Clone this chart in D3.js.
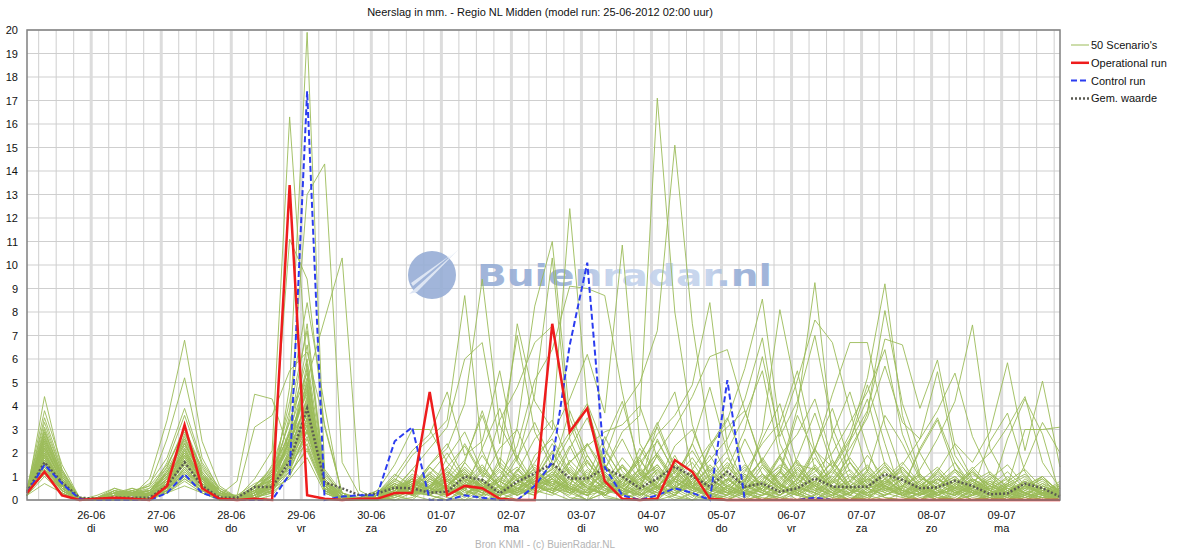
<!DOCTYPE html>
<html>
<head>
<meta charset="utf-8">
<style>
    body { margin: 0; background: #fff; }
    svg { font-family: "Liberation Sans", Arial, sans-serif; }
</style>
</head>
<body>
<svg width="1180" height="550"></svg>
<script src="https://d3js.org/d3.v7.min.js"></script>
<script>
    // model run 25-06-2012 02:00, one value per 6 hours
    const runStart = Date.UTC(2012, 5, 25, 2)
    const stepHours = 6

    const operational = [
        0.3, 1.2, 0.2, 0, 0.05, 0.1, 0.05, 0, 0.6, 3.2,
        0.5, 0.05, 0, 0.05, 0, 13.4, 0.2, 0.05, 0, 0.05,
        0.05, 0.3, 0.3, 4.6, 0.2, 0.6, 0.5, 0.05, 0, 0,
        7.5, 2.9, 3.9, 0.8, 0.05, 0, 0.05, 1.7, 1.2, 0.05,
        0, 0, 0, 0, 0, 0, 0, 0, 0, 0,
        0, 0, 0, 0, 0, 0, 0, 0, 0, 0]

    const control = [
        0.3, 1.5, 0.7, 0.05, 0, 0, 0, 0, 0.3, 1.1,
        0.3, 0.05, 0, 0, 0, 1.1, 17.4, 0, 0.15, 0.2,
        0.2, 2.5, 3.1, 0, 0, 0.2, 0.1, 0, 0, 0.6,
        1.6, 6.6, 10.1, 1.4, 0.2, 0, 0.2, 0.5, 0.3, 0,
        5.1, 0, 0, 0, 0, 0.1, 0, 0, 0, 0,
        0, 0, 0, 0, 0, 0, 0, 0, 0, 0]

    const average = [
        0.35, 1.6, 0.75, 0.1, 0.05, 0.1, 0.1, 0.1, 0.6, 1.6,
        0.6, 0.1, 0.1, 0.55, 0.55, 1.65, 3.9, 0.75, 0.5, 0.2,
        0.28, 0.52, 0.5, 0.31, 0.35, 1.0, 0.85, 0.28, 0.78, 1.13,
        1.56, 0.92, 0.92, 1.35, 1.0, 0.5, 0.92, 1.42, 1.0, 0.57,
        1.2, 0.57, 0.7, 0.35, 0.5, 0.92, 0.57, 0.55, 0.57, 1.1,
        0.85, 0.5, 0.54, 0.82, 0.6, 0.24, 0.28, 0.7, 0.5, 0.14]

    const scenarios = [
        [0.3,4.4,1.3,0,0,0.1,0.2,0.1,0.6,1.9, 0.8,0.1,0,0.4,0.6,1.8,3.2,0.4,0.1,0, 0,0.2,0.5,1.1,0.4,0.2,0.8,0.1,0,0.6, 1.4,2.7,3.9,1.5,0.3,1.2,0.6,0.2,0,0.1, 0.4,1.1,0.3,0,0,0.2,0.9,0.4,0,0.2, 0.5,2.1,3.4,1.3,0.8,0.2,0,0,0.4,0.1],
        [0.4,2.6,0.9,0.1,0,0,0,0.2,1.2,2.4, 1.1,0.2,0,0.1,0.3,4.8,19.9,1.2,0.2,0, 0.1,0,0.3,0.2,0,0.5,1.4,0.6,0.2,0.9, 2.1,0.4,0,0.6,1.5,0.3,0,0.2,0.8,0.3, 0,0,0.6,1.8,0.4,0.1,0,0.3,1.2,0.5, 0.2,0,0,0.7,0.3,0,0.2,0.9,0.4,0],
        [0.2,1.9,0.6,0,0.1,0.3,0.1,0,0.5,1.6, 0.7,0,0.1,0.9,2.1,16.3,5.4,0.6,0.1,0, 0,0.3,0.9,0.4,0.1,0,0.2,1.8,0.9,0.3, 0.5,1.7,0.9,0.2,0,0.4,2.6,1.1,0.3,0, 0.2,0.8,2.6,4.1,1.5,1.3,0.4,0,0.1,0.6, 1.4,0.5,0.1,0,0.2,0.6,0.3,0,0,0.2],
        [0.3,2.2,0.8,0,0,0,0.1,0.3,0.9,2.8, 1.4,0.3,0,0.2,0.7,3.6,13.0,14.3,1.6,0.2, 0.1,0,0.1,0.6,1.3,0.5,0,0.2,0.4,1.1, 0.6,0.1,0,0.3,1.0,0.6,0.2,0.9,2.4,0.8, 0.3,0,0.2,0.7,0.2,0,0.4,1.6,0.7,0.1, 0,0.3,0.9,0.4,0,0.1,0.5,0.2,0,0.3],
        [0.2,1.6,0.5,0,0.1,0.2,0,0,0.4,1.2, 0.5,0.1,0.2,0.5,1.1,2.4,5.1,7.7,10.3,0.4, 0,0.1,0.4,1.2,0.6,0.2,0.9,0.3,0,0.5, 1.0,2.3,0.8,0.1,0,0.3,0.9,0.4,0,0.6, 1.5,0.5,0,0.2,0.9,0.3,0,0,0.6,1.2, 0.4,0,0.2,0.5,0.1,0,0.7,1.1,0.3,0],
        [0.3,2.9,1.1,0.1,0,0,0.3,0.1,0.7,2.0, 0.9,0.2,0,0.3,1.5,11.1,9.4,3.1,0.3,0, 0.2,0.5,0.2,0,0.3,1.6,0.7,0.1,1.3,0.4, 0.2,0.6,1.9,0.7,0.3,0,0.1,0.5,1.1,0.2, 0,0.3,1.4,0.5,0,0.2,2.8,4.6,2.2,0.4, 0.9,0.4,0,0.1,0.6,0.2,0,0.3,0.7,0.2],
        [0.5,3.8,1.5,0.1,0,0.4,0.2,0.9,3.4,6.8, 2.5,0.6,0.1,0,0.2,1.1,2.2,0.5,0,0.1, 0.3,1.1,0.6,0.2,0,0.4,2.2,3.9,1.6,0.6, 0.3,0,0.4,1.2,0.5,0.1,0.7,1.9,0.6,0, 0.2,0.6,0.3,0.1,0,0.7,1.7,0.6,0.2,0, 0.3,0.8,0.2,0,0.4,2.5,3.7,1.2,0.2,0.5],
        [0.3,2.4,0.7,0,0,0.1,0.4,0.6,2.6,5.2, 1.8,0.4,0,0.1,0.4,2.9,7.5,0.9,0.2,0, 0,0.2,0.8,0.3,0.6,1.2,0.4,0,0.3,0.8, 0.4,1.3,0.5,0.2,0.9,0.3,0,0.6,2.4,4.8, 2.0,0,0.2,0.4,1.3,0.6,0.1,0,0.3,0.9, 0.3,0,0.5,1.2,0.4,0.1,0,0.4,0.8,0.3],
        [0.2,2.0,0.6,0,0,0,0.1,0.2,0.5,1.4, 0.6,0.2,0.8,4.5,4.3,2.0,4.4,0.7,0.1,0, 0.2,0.6,0.3,1.0,0.4,0,0.5,0.2,0.7,1.5, 0.9,0.3,0,2.5,4.2,1.4,0.5,0.1,0,0.3, 0.9,0.3,0.1,0,0.5,1.1,0.4,0.2,0,0.6, 0.2,0.4,1.0,0.3,0,0.2,2.6,4.3,2.8,0.2],
        [0.4,1.4,0.4,0,0.1,0.3,0.2,0.1,0.8,2.1, 0.9,0.3,0.2,3.1,3.6,5.5,6.3,3.2,0.3,0.1, 0,0.4,1.3,0.5,0.2,0.7,0.3,0,0.4,0.2, 1.1,0.5,0.2,0.8,0.3,0,0.4,1.0,0.5,0.2, 0,0.4,0.7,0.2,0.6,0.3,0,2.5,4.9,2.4, 0.1,0,0.3,0.6,0.2,0.5,0.9,0.3,0.1,0],
        [0.2,1.8,0.5,0,0,0.2,0.1,0,0.3,1.0, 0.4,0,0,0.2,0.9,1.6,3.8,0.6,0,0, 0.3,0.8,1.9,2.6,3.4,8.7,2.1,0.5,0.2,0.6, 1.2,0.4,0,0.3,0.8,0.2,0.5,1.4,0.6,0.1, 0,0.7,0.3,0.1,0.4,1.0,0.3,0,0.5,0.2, 0.6,1.1,0.4,0,0.2,0.5,0.1,0,0.3,0.4],
        [0.3,2.7,0.9,0,0,0,0.2,0.4,1.1,2.3, 1.0,0.1,0,0,0.5,2.7,4.9,0.3,0,0, 0.1,0.3,0.6,1.5,2.2,4.1,9.4,3.2,1.7,4.5, 10.3,2.6,0.9,0.2,0.6,1.8,0.4,0,0.3,0.9, 0.4,0.1,0.5,1.2,0.3,0,0.2,0.7,1.5,0.6, 0.2,0,0.4,0.9,0.3,0.1,0,0.6,1.0,0.3],
        [0.4,3.0,1.0,0.1,0,0.2,0.5,0.3,1.4,3.0, 1.2,0.4,0,0.3,1.2,3.3,6.0,1.0,0.3,0, 0,0.1,0.4,0.2,0.9,1.7,3.6,1.4,7.5,4.2, 3.0,12.4,4.1,1.1,0.3,0,0.6,0.2,1.3,0.5, 0.2,0.9,0.4,0,0.3,1.4,0.5,0.1,0,0.8, 1.2,0.4,0.1,0,0.5,0.8,0.2,0,0.1,0.6],
        [0.2,1.5,0.4,0,0,0,0,0.1,0.6,1.7, 0.7,0.2,0.1,0.6,0.8,1.3,4.1,0.8,0.1,0, 0.2,0.5,0.9,0.4,1.8,2.9,1.2,0.6,3.1,8.25, 11.0,3.5,1.6,0.7,0.2,0.5,1.9,0.8,0.2,0, 0.6,0.3,0,0.4,1.1,0.5,0.2,0,0.4,1.3, 0.5,0.1,0.3,0.8,0.2,0,0.4,0.7,0.2,0],
        [0.3,2.1,0.7,0,0.1,0.1,0,0.2,0.9,1.9, 0.8,0.1,0,0.2,0.4,2.2,5.8,0.4,0,0.1, 0.4,0.2,0,0.6,1.1,0.4,0.2,0.8,1.9,0.7, 0.3,1.6,2.4,1.3,2.9,3.6,17.1,8.0,3.2,1.0, 0.3,0.6,1.8,0.7,0.2,0,0.5,1.1,0.4,0.1, 0,0.3,0.9,0.5,1.3,0.4,0,0.2,0.6,0.2],
        [0.4,1.7,0.6,0,0,0.4,0.3,0,0.4,1.3, 0.6,0,0.2,0.7,1.0,4.2,8.4,4.0,0,0, 0.1,0.6,0.3,0.9,0.5,0.1,0.6,1.3,0.4,1.0, 2.4,1.1,0.4,1.8,3.9,5.0,7.2,15.1,7.5,2.6, 1.0,0.3,0,0.5,1.2,0.4,0.1,0.3,0.9,0.6, 0.2,0.5,1.3,0.4,0,0.2,0.7,0.3,0,0.1],
        [0.2,2.5,0.8,0,0,0,0.1,0.3,0.7,1.5, 0.7,0.3,0,0.1,0.6,1.9,3.3,0.9,0.2,0, 0,0.3,0.8,0.3,0.2,0.9,0.5,0.2,0.6,1.6, 2.8,4.3,6.2,3.7,10.85,2.4,1.1,0.4,0.8,1.9, 0.7,0.2,0.4,1.0,0.3,0,0.6,0.2,1.1,0.5, 0.3,0.9,0.2,0,0.4,0.7,0.3,0.1,0.5,0.2],
        [0.3,1.2,0.4,0,0,0.1,0.2,0.1,0.5,1.1, 0.5,0.1,0,0.3,1.3,2.8,4.6,0.7,0.2,0, 0.2,0.9,0.4,1.4,0.8,0.2,0.4,1.0,2.3,5.1, 6.4,9.1,9.0,8.7,4.6,1.2,0.5,1.6,0.7,0.2, 0,0.4,1.1,0.5,0.2,0.8,0.3,0,0.2,0.7, 1.0,0.4,0,0.3,0.6,0.2,0,0.5,0.9,0.4],
        [0.4,2.3,0.8,0.1,0,0,0.3,0.5,1.0,2.0, 0.9,0.2,0,0.4,0.3,1.0,2.6,0.5,0.1,0, 0.1,0.4,0.2,0.7,0.3,1.1,0.6,0.2,0.5,0.3, 0.9,0.4,1.3,0.6,0.2,1.4,2.8,3.6,4.9,8.4, 2.3,0.6,0.3,1.2,3.9,9.25,2.7,0.8,0.3,0.5, 1.1,0.3,0,0.2,0.7,0.4,0.1,0.6,0.3,0],
        [0.2,1.9,0.6,0,0.1,0.5,0.2,0,0.6,1.8, 0.8,0.2,0.1,0.5,0.9,3.0,5.2,0.4,0,0, 0,0.2,0.5,0.3,1.2,0.6,0.2,0.4,1.0,0.7, 0.4,0.9,0.3,1.5,0.7,0.2,0.6,1.3,0.5,2.2, 3.4,5.6,8.55,3.1,1.0,0.6,1.4,2.8,5.2,9.2, 3.6,1.1,0.4,0.2,0.8,0.3,0,0.4,1.0,0.3],
        [0.3,2.8,1.0,0,0,0,0.1,0.2,1.3,2.6, 1.1,0.3,0,0.2,0.5,1.7,3.5,1.1,0.3,0, 0.3,0.6,0.2,0.9,0.4,0.2,0.7,0.3,0.9,1.2, 0.5,0.2,0.8,1.9,0.6,0.3,1.2,0.5,0.1,0.8, 1.6,0.7,2.9,8.1,4.4,1.3,0.5,0.2,0.7,1.5, 0.6,0.2,0.5,1.3,0.4,0,0.3,0.8,0.2,0.1],
        [0.2,1.3,0.5,0,0,0.2,0.4,0.1,0.3,0.9, 0.4,0,0,0.1,0.7,2.0,3.9,0.3,0,0, 0.2,0.7,0.3,0.5,1.0,0.4,0.1,0.6,0.3,0.9, 1.3,0.6,0.2,0.4,1.1,0.7,0.3,0.9,1.6,0.5, 0.2,0.8,1.7,2.9,5.1,7.66,6.7,3.8,1.2,0.6, 0.4,1.3,2.6,4.2,7.45,2.2,0.8,0.3,0.5,0.2],
        [0.5,3.3,1.2,0.1,0,0.1,0,0.3,1.6,3.6, 1.5,0.4,0.1,0.2,0.8,2.6,4.0,0.8,0.2,0, 0,0.2,0.7,0.4,0.3,0.8,1.5,0.5,0.2,0.6, 1.0,0.4,0.2,0.7,1.4,0.6,0.2,0.5,1.2,0.4, 0.8,1.5,0.6,0.2,0.9,1.8,0.7,1.9,3.7,8.06, 4.1,2.0,0.7,0.3,0.9,0.4,0.1,0.6,0.3,0.2],
        [0.3,1.6,0.5,0,0,0.3,0.1,0,0.4,1.4, 0.6,0.1,0,0.6,1.4,3.8,7.2,0.6,0,0, 0.1,0.3,0.6,1.1,0.5,0.2,0.9,0.4,1.3,0.6, 0.3,0.7,1.6,0.8,0.4,1.1,2.0,3.1,4.4,6.1, 6.4,3.8,1.5,0.6,0.3,0.8,1.6,0.5,0.2,0.4, 0.9,0.3,0,0.4,1.1,0.6,0.2,0,0.3,0.7],
        [0.2,2.0,0.7,0,0.1,0,0.2,0.4,0.8,1.7, 0.7,0.2,0,0.2,0.6,1.5,2.9,0.6,0.1,0, 0.3,0.5,0.2,0.6,0.9,0.3,0.5,1.2,0.4,0.8, 0.6,1.4,0.5,0.2,0.7,1.3,0.6,0.3,0.9,1.7, 2.6,4.3,6.9,2.4,0.8,2.1,4.5,6.7,6.7,3.2, 1.1,0.5,0.3,0.8,0.4,0.1,0.6,1.0,0.3,0.1],
        [0.4,2.6,0.9,0,0,0.1,0.3,0.2,1.2,2.5, 1.0,0.2,0,0.4,0.9,2.3,5.0,0.7,0.2,0, 0.2,0.4,1.0,0.5,0.2,0.6,0.3,0.9,0.5,0.2, 0.8,0.5,1.2,0.4,0.2,0.9,1.5,0.6,0.3,0.7, 1.2,0.5,0.8,1.9,0.7,0.4,1.3,2.5,3.8,6.85, 6.6,3.9,5.96,2.3,0.9,0.4,0.7,0.3,0.1,0.4],
        [0.3,1.1,0.3,0,0,0,0.1,0.1,0.3,0.8, 0.3,0,0.1,0.3,0.6,1.4,2.7,0.5,0,0, 0.1,0.4,0.8,0.3,0.6,1.3,0.5,0.2,0.7,1.1, 0.4,0.9,0.3,0.6,1.5,0.7,0.3,0.8,0.4,0.2, 0.6,1.0,0.4,0.2,0.7,1.4,0.5,0.3,0.9,1.6, 0.8,0.3,1.2,2.4,1.6,2.9,5.84,2.1,5.06,1.4],
        [0.2,1.4,0.5,0,0.1,0.3,0.2,0,0.5,1.3, 0.5,0.1,0,0.2,0.7,2.1,4.3,0.8,0.1,0, 0,0.3,0.5,1.4,0.6,0.2,0.7,0.3,0.4,1.0, 0.7,0.3,0.9,1.5,0.5,0.2,0.6,1.2,0.5,0.3, 0.9,0.4,0.2,0.6,1.3,0.6,0.3,0.8,1.4,0.7, 1.5,2.6,3.8,5.4,2.7,1.1,0.6,3.0,3.0,3.1],
        [0.4,2.2,0.8,0,0,0.1,0,0.3,0.9,2.2, 0.9,0.2,0,0.1,0.4,1.2,3.0,0.5,0.1,0, 0.3,1.0,2.1,2.8,4.6,1.9,2.5,5.5,1.7,0.6, 0.3,0.8,1.7,0.6,0.2,0.5,1.3,0.4,0.9,0.3, 0.1,0.5,1.1,0.4,0.2,0.7,0.3,0,0.5,1.2, 0.4,0.2,0.6,1.0,0.3,0,0.4,0.8,0.2,0],
        [0.3,1.7,0.6,0,0,0.2,0.3,0.6,1.5,2.9, 1.2,0.3,0,0.3,0.8,1.8,3.4,0.4,0,0, 0.2,0.5,1.3,2.2,3.1,6.0,6.7,2.4,7.0,2.9, 1.4,0.5,0.2,0.9,0.4,1.1,0.5,0.2,0.7,1.4, 0.5,0.2,0.6,1.3,0.4,0.1,0.8,0.3,0.6,1.0, 0.3,0.7,0.2,0.5,1.2,0.4,0,0.2,0.6,0.3],
        [0.2,2.4,0.7,0,0,0,0.1,0.2,0.7,1.6, 0.6,0.1,0.1,0.4,1.1,2.5,4.7,0.9,0.2,0, 0.1,0.2,0.9,0.5,1.4,2.3,1.0,3.4,4.8,6.7, 7.4,3.2,1.4,0.6,0.3,0.8,1.5,0.6,0.2,0.5, 1.1,0.4,0.2,0.7,1.5,0.5,0.2,0.6,1.0,0.3, 0.1,0.5,0.9,0.3,0.6,1.1,0.4,0.1,0.3,0.5],
        [0.4,3.5,1.3,0.1,0,0.3,0.5,0.2,0.8,2.4, 1.0,0.3,0,0.2,0.6,1.9,3.7,0.6,0.1,0, 0.2,0.7,0.3,1.1,2.0,0.8,0.4,1.6,0.9,0.4, 1.7,2.9,4.1,2.2,0.9,1.8,3.3,1.4,0.6,0.2, 0.5,1.3,0.6,0.3,0.9,2.2,0.8,0.4,0.1,0.6, 1.0,0.4,0.2,0.7,0.3,0.9,1.5,0.6,0.2,0.4],
        [0.3,2.1,0.6,0,0,0.1,0.2,0,0.6,1.5, 0.8,0.2,0,0.5,1.0,2.2,3.1,0.6,0,0, 0,0.3,0.7,0.4,0.9,0.5,1.2,0.6,0.3,0.8, 1.5,0.6,0.3,1.0,0.5,0.2,0.8,1.6,0.7,0.4, 1.3,3.0,6.1,2.7,4.2,7.0,3.1,1.2,0.5,0.8, 0.4,0.2,0.7,1.3,0.5,0.2,0.6,0.3,0.1,0.2],
        [0.2,1.3,0.4,0,0.1,0.4,0.2,0.1,0.5,1.1, 0.4,0.1,0,0.2,0.5,1.3,2.9,0.4,0,0.1, 0.3,0.6,0.2,0.8,0.4,1.0,0.5,0.2,0.9,1.3, 0.6,0.3,1.0,0.5,0.2,0.7,1.3,0.5,1.1,0.6, 0.3,1.2,2.4,3.3,5.5,2.1,1.4,2.6,4.3,1.5, 0.6,0.3,0.9,0.4,0.2,0.8,0.5,0.1,0.4,0.3],
        [0.3,1.8,0.6,0,0,0,0.3,0.4,1.1,2.0, 0.8,0.3,0.1,0.4,0.7,2.0,4.2,0.7,0.2,0, 0.1,0.4,0.9,0.3,0.6,1.2,0.4,0.8,0.3,0.6, 0.9,0.5,0.2,0.7,1.4,0.6,0.3,0.9,0.5,1.2, 2.1,3.6,5.5,1.8,0.7,1.2,2.0,3.3,4.6,6.4, 2.8,1.0,0.4,0.2,0.9,0.5,0.2,0.7,0.3,0.1],
        [0.2,2.7,1.0,0.1,0,0.2,0.1,0,0.6,1.8, 0.7,0.1,0,0.3,0.8,1.6,2.4,0.5,0.1,0, 0.2,0.5,0.3,1.0,0.5,0.2,0.8,0.4,1.1,0.6, 0.3,1.2,0.6,0.2,0.9,1.7,0.7,0.3,0.6,1.0, 0.4,0.2,0.9,1.4,0.6,0.3,1.1,2.2,3.5,5.7, 3.3,2.6,5.46,1.9,0.8,0.4,0.2,0.6,1.0,0.3],
        [0.3,1.5,0.5,0,0,0.1,0.4,0.2,0.4,1.2, 0.6,0.2,0.1,0.6,1.2,2.4,3.6,0.7,0.1,0, 0,0.2,0.6,0.3,0.8,0.4,1.3,0.6,0.2,0.7, 1.1,0.5,0.3,0.8,0.4,0.2,0.9,1.5,0.6,0.3, 0.7,1.4,0.6,1.9,2.8,4.3,1.7,0.6,0.3,0.9, 1.4,0.6,0.2,0.5,1.3,2.0,3.1,4.4,1.6,0.5],
        [0.4,2.9,1.1,0,0,0,0.2,0.3,1.0,2.7, 1.1,0.4,0,0.1,0.4,1.5,3.2,0.8,0.3,0, 0.3,0.8,0.4,0.2,0.7,1.1,0.5,0.9,1.4,0.6, 0.9,1.6,2.3,2.9,3.2,4.0,1.8,0.7,1.3,2.4, 3.1,3.8,1.6,0.6,0.3,0.8,1.2,0.5,0.9,0.4, 0.2,0.6,1.1,0.5,0.3,0.7,0.4,0,0.2,0.5],
        [0.2,1.0,0.3,0,0.2,0.5,0.3,0.1,0.4,0.9, 0.4,0.1,0,0.2,0.9,1.7,3.0,0.5,0,0, 0.4,1.5,3.0,3.0,1.6,0.8,0.3,0.6,0.2,0.5, 0.8,0.4,1.1,0.5,0.2,0.6,3.2,4.6,1.3,0.5, 0.9,0.3,0.5,1.2,0.6,0.2,0.7,1.3,0.5,0.2, 0.6,1.1,0.4,0.2,0.5,0.9,0.3,0.1,0.4,0.6],
        [0.3,2.3,0.8,0.1,0,0.2,0.1,0.5,1.4,3.1, 1.3,0.5,0.1,0.2,0.5,2.6,6.6,1.3,0.3,0, 0.1,0.3,0.7,0.4,1.0,2.4,1.1,0.5,1.8,3.3, 1.6,0.7,0.4,1.3,2.6,1.1,0.5,0.9,1.8,0.7, 0.3,0.6,1.5,0.7,0.3,1.0,0.6,0.2,0.8,1.4, 0.7,0.3,0.6,1.0,0.4,0.2,0.8,1.3,0.5,0.2],
        [0.4,1.9,0.7,0,0,0.1,0.2,0.3,0.6,1.3, 0.6,0.2,0,0.4,1.0,3.4,5.4,0.9,0.2,0, 0.2,0.6,0.3,0.9,0.5,1.6,3.8,1.5,0.6,0.9, 2.0,1.1,0.5,0.3,0.9,1.6,2.5,1.2,0.4,0.8, 1.4,0.6,0.3,0.9,1.6,0.7,0.3,1.0,0.5,0.2, 0.5,2.2,3.5,1.6,0.3,0.4,1.0,0.4,0.2,0.3],
        [0.2,1.7,0.5,0,0.1,0.3,0.4,0.2,0.9,2.2, 0.9,0.3,0,0.3,0.6,1.2,2.1,0.4,0.1,0, 0.3,0.9,0.5,1.5,2.4,0.9,0.6,0.3,1.2,2.6, 3.4,1.5,0.7,2.1,1.0,0.4,0.7,2.3,3.0,1.2, 0.5,0.2,0.7,1.5,0.9,0.4,0.8,1.6,0.7,0.3, 0.9,0.5,0.2,0.7,1.2,0.6,0.3,0.5,0.9,0.2],
        [0.3,2.5,0.9,0,0,0,0.1,0.1,0.7,1.9, 0.8,0.2,0,0.2,0.7,2.9,4.5,0.6,0.1,0, 0.1,0.4,1.1,0.6,0.3,0.7,1.9,0.8,0.4,1.4, 0.6,2.2,3.5,1.4,0.6,0.9,1.4,0.5,0.3,0.9, 1.8,0.8,0.4,1.1,3.6,2.0,0.5,0.8,1.9,0.9, 0.4,0.2,0.8,1.6,0.6,0.3,0.5,0.2,0.7,0.4],
        [0.5,3.1,1.2,0.1,0,0.2,0.3,0.7,1.8,3.9, 1.6,0.5,0.1,0.1,0.3,1.6,3.8,0.5,0,0, 0.2,0.3,0.8,0.5,1.2,0.6,0.3,1.0,0.5,0.8, 1.3,3.8,1.9,0.8,0.5,1.3,0.6,0.2,1.0,0.5, 0.3,0.9,1.7,0.6,0.4,2.2,3.9,1.6,0.5,0.7, 1.3,0.6,0.3,0.4,0.8,1.2,0.5,0.3,0.1,0.2],
        [0.2,1.2,0.4,0,0,0.1,0,0.2,0.5,1.0, 0.5,0.1,0,0.5,1.1,2.3,4.8,0.7,0.1,0, 0,0.2,0.4,0.8,0.3,0.5,0.9,2.2,3.0,1.2, 0.7,0.4,0.9,2.7,1.2,0.6,1.9,0.8,0.4,1.1, 0.6,0.3,1.0,0.5,1.4,0.6,0.2,0.6,1.2,3.6, 2.4,0.9,0.7,0.3,0.5,1.0,0.4,0.2,0.6,0.3],
        [0.3,2.0,0.6,0,0.1,0.4,0.2,0,0.6,1.6, 0.7,0.2,0.1,0.6,1.3,2.8,2.3,0.4,0,0, 0.3,0.7,0.3,0.6,1.4,0.7,0.4,0.8,0.3,1.9, 2.6,1.2,0.5,0.7,1.8,0.9,0.4,1.2,2.1,0.9, 0.4,1.1,0.6,0.2,0.7,1.5,0.6,0.3,0.9,0.5, 0.2,0.8,1.4,0.6,0.3,0.6,1.2,0.5,0.3,0.8],
        [0.4,1.8,0.6,0,0,0,0.3,0.4,1.0,2.6, 1.1,0.3,0,0.1,0.4,2.0,5.6,0.8,0.2,0, 0.2,0.5,0.2,0.4,0.8,1.3,0.6,0.3,0.7,0.4, 0.9,0.3,0.6,1.1,0.5,2.2,1.0,0.4,0.7,1.3, 0.6,0.2,0.5,1.2,0.5,0.3,0.9,1.8,0.8,0.4, 0.6,1.0,0.5,0.2,0.7,0.3,0.1,1.5,3.3,2.0],
        [0.2,0.7,0.3,0,0,0.2,0.1,0.1,0.3,0.6, 0.3,0,0,0.3,0.5,0.9,1.8,0.3,0,0, 0.1,0.3,0.6,0.3,0.5,0.9,0.4,0.2,0.5,1.0, 0.5,0.3,0.7,0.4,0.9,0.5,0.2,0.6,1.0,0.4, 0.2,0.5,0.8,0.4,0.2,0.6,1.0,0.4,0.3,0.7, 0.4,0.2,0.5,0.9,0.4,0.2,0.6,0.3,0.1,0.2],
        [0.3,2.2,0.8,0,0,0.1,0.4,0.2,0.7,2.1, 0.9,0.3,0,0.2,0.7,1.4,3.5,0.6,0.1,0, 0.2,0.4,0.9,0.5,0.3,1.1,0.6,1.4,0.8,0.5, 1.2,0.6,2.4,1.0,0.4,1.0,2.0,0.9,0.5,1.5, 0.8,2.6,1.1,0.5,1.8,3.7,1.4,0.4,1.3,0.6, 0.3,0.6,1.2,0.5,0.9,0.4,0.2,0.7,0.4,0.1],
        [0.4,1.6,0.5,0,0,0.3,0.2,0.4,1.2,2.4, 1.0,0.4,0.1,0.4,0.9,2.5,4.0,0.6,0.1,0, 0.3,0.7,0.4,0.2,0.6,1.4,0.7,0.3,1.1,0.6, 0.4,1.0,0.5,0.3,0.8,1.9,3.1,1.3,0.5,2.3, 3.5,1.6,0.4,0.8,1.7,0.6,1.3,0.5,0.2,0.9, 1.6,0.7,0.3,0.6,1.4,0.6,0.3,0.8,0.5,0.2]
    ]

    const dayNames = ["zo", "ma", "di", "wo", "do", "vr", "za"]
    const yTicks = d3.range(0, 21)
    const legendItems = ["50 Scenario's", "Operational run", "Control run", "Gem. waarde"]

    const margin = {left: 27, top: 30, right: 1060, bottom: 500}
    const svg = d3.select("svg")

    const timeAt = i => new Date(runStart + i * stepHours * 3600 * 1000)
    const runEnd = timeAt(operational.length - 1)

    const x = d3.scaleUtc()
        .domain([timeAt(0), runEnd])
        .range([margin.left, margin.right])

    const y = d3.scaleLinear()
        .domain([0, 20])
        .range([margin.bottom, margin.top])

    // grid
    let grid = svg.append("g")

    grid.selectAll(".hgrid")
        .data(yTicks)
        .join("line")
        .attr("x1", margin.left).attr("x2", margin.right)
        .attr("y1", d => y(d)).attr("y2", d => y(d))
        .attr("stroke", "#cfcfcf")
        .attr("stroke-width", 1)

    grid.selectAll(".vgrid")
        .data(d3.utcHour.every(6).range(timeAt(0), runEnd))
        .join("line")
        .attr("x1", d => x(d)).attr("x2", d => x(d))
        .attr("y1", margin.top).attr("y2", margin.bottom)
        .attr("stroke", "#cfcfcf")
        .attr("stroke-width", 1)

    let days = d3.utcDay.range(timeAt(0), runEnd)

    grid.selectAll(".daygrid")
        .data(days)
        .join("line")
        .attr("x1", d => x(d)).attr("x2", d => x(d))
        .attr("y1", margin.top).attr("y2", margin.bottom)
        .attr("stroke", "#dcdcdc")
        .attr("stroke-width", 3)

    // watermark
    let mark = svg.append("g").attr("opacity", 0.9)
    let grad = svg.append("defs").append("linearGradient")
        .attr("id", "markGrad")
        .attr("x1", "0%").attr("x2", "100%")
    grad.append("stop").attr("offset", "0%").attr("stop-color", "#97aed6")
    grad.append("stop").attr("offset", "30%").attr("stop-color", "#97aed6")
    grad.append("stop").attr("offset", "45%").attr("stop-color", "#c3d2ec")
    grad.append("stop").attr("offset", "78%").attr("stop-color", "#c3d2ec")
    grad.append("stop").attr("offset", "88%").attr("stop-color", "#97aed6")
    grad.append("stop").attr("offset", "100%").attr("stop-color", "#97aed6")

    mark.append("circle")
        .attr("cx", 432).attr("cy", 275).attr("r", 24)
        .attr("fill", "#97aed6")
    mark.append("path")
        .attr("d", "M409,294 L459,249 L417,292 Z")
        .attr("fill", "#dbe4f3")
    mark.append("path")
        .attr("d", "M411,283 L452,254 L413,286 Z")
        .attr("fill", "#dbe4f3")
    mark.append("text")
        .attr("x", 477).attr("y", 286)
        .attr("textLength", 295)
        .attr("lengthAdjust", "spacingAndGlyphs")
        .attr("font-family", "DejaVu Sans")
        .attr("font-weight", "bold")
        .attr("font-size", 31)
        .attr("fill", "url(#markGrad)")
        .text("Buienradar.nl")

    // series
    let line = d3.line()
        .x((d, i) => x(timeAt(i)))
        .y(d => y(d))

    svg.append("g")
        .selectAll("path")
        .data(scenarios)
        .join("path")
        .attr("d", line)
        .attr("fill", "none")
        .attr("stroke", "#9bbb59")
        .attr("stroke-opacity", 0.9)
        .attr("stroke-width", 1)

    svg.append("path")
        .attr("d", line(average))
        .attr("fill", "none")
        .attr("stroke", "#5a5a52")
        .attr("stroke-width", 2.5)
        .attr("stroke-dasharray", "2,2")

    svg.append("path")
        .attr("d", line(control))
        .attr("fill", "none")
        .attr("stroke", "#2b3cf0")
        .attr("stroke-width", 2)
        .attr("stroke-dasharray", "6,3")

    svg.append("path")
        .attr("d", line(operational))
        .attr("fill", "none")
        .attr("stroke", "#ee1c1c")
        .attr("stroke-width", 2.5)

    // frame
    svg.append("rect")
        .attr("x", margin.left).attr("y", margin.top)
        .attr("width", margin.right - margin.left)
        .attr("height", margin.bottom - margin.top)
        .attr("fill", "none")
        .attr("stroke", "#808080")
        .attr("stroke-width", 1.5)

    // y labels
    svg.append("g")
        .selectAll("text")
        .data(yTicks)
        .join("text")
        .attr("x", 18)
        .attr("y", d => y(d) + 4)
        .attr("text-anchor", "end")
        .attr("font-size", 11)
        .attr("fill", "#111")
        .text(d => d)

    // x labels
    let fmtDay = d3.utcFormat("%d-%m")
    let xl = svg.append("g")
    xl.selectAll(".date")
        .data(days)
        .join("text")
        .attr("x", d => x(d))
        .attr("y", 519)
        .attr("text-anchor", "middle")
        .attr("font-size", 11)
        .attr("fill", "#111")
        .text(d => fmtDay(d))
    xl.selectAll(".wd")
        .data(days)
        .join("text")
        .attr("x", d => x(d))
        .attr("y", 532)
        .attr("text-anchor", "middle")
        .attr("font-size", 11)
        .attr("fill", "#111")
        .text(d => dayNames[d.getUTCDay()])

    // title
    svg.append("text")
        .attr("x", 540)
        .attr("y", 16)
        .attr("text-anchor", "middle")
        .attr("font-size", 11)
        .attr("fill", "#111")
        .text("Neerslag in mm. - Regio NL Midden (model run: 25-06-2012 02:00 uur)")

    // legend
    let legendStyle = [
        {stroke: "#9bbb59", width: 1, dash: null},
        {stroke: "#ee1c1c", width: 2.5, dash: null},
        {stroke: "#2b3cf0", width: 2, dash: "6,3"},
        {stroke: "#5a5a52", width: 2.5, dash: "2,2"}
    ]
    let legend = svg.append("g")
        .selectAll("g")
        .data(legendItems)
        .join("g")
        .attr("transform", (d, i) => `translate(1071, ${45 + i * 17.8})`)
    legend.append("line")
        .attr("x1", 0).attr("x2", 18)
        .attr("stroke", (d, i) => legendStyle[i].stroke)
        .attr("stroke-width", (d, i) => legendStyle[i].width)
        .attr("stroke-dasharray", (d, i) => legendStyle[i].dash)
    legend.append("text")
        .attr("x", 20)
        .attr("y", 4)
        .attr("font-size", 11)
        .attr("fill", "#111")
        .text(d => d)

    svg.append("text")
        .attr("x", 545)
        .attr("y", 548)
        .attr("text-anchor", "middle")
        .attr("font-size", 10)
        .attr("fill", "#b4b4b4")
        .text("Bron KNMI - (c) BuienRadar.NL")
</script>
</body>
</html>
